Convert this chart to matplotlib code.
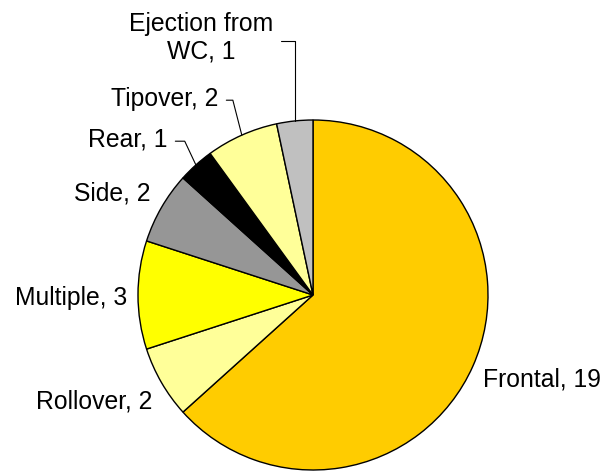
import numpy as np
import matplotlib
matplotlib.use("Agg")
import matplotlib.pyplot as plt

labels = ["Frontal", "Rollover", "Multiple", "Side", "Rear", "Tipover", "Ejection from\nWC"]
values = [19, 2, 3, 2, 1, 2, 1]
colors = ["#FFCC00", "#FFFF99", "#FFFF00", "#969696", "#000000", "#FFFF99", "#C0C0C0"]

# label anchor positions in pixel space (y up), and whether they get a leader line
text_pos = [(483, 93, "left"), (152, 70, "right"), (127, 174, "right"),
            (150, 279, "right"), (167, 332, "right"), (218, 373, "right"),
            (201, 434, "center")]
leader = [False, False, False, False, True, True, True]

W, H = 606, 472
fig = plt.figure(figsize=(W / 100, H / 100), dpi=100)
ax = fig.add_axes([0, 0, 1, 1])

cx, cy, r = 313, 177, 175
wedges, _ = ax.pie(values, colors=colors, startangle=90, counterclock=False,
                   center=(cx, cy), radius=r, frame=True,
                   wedgeprops=dict(edgecolor="black", linewidth=1.0))
ax.set_xlim(0, W)
ax.set_ylim(0, H)
ax.set_aspect("equal")
ax.axis("off")

fam = ["Liberation Sans", "DejaVu Sans"]
plt.rcParams["font.family"] = fam
fs = 17.8

for w, lab, v, (tx, ty, ha), ld in zip(wedges, labels, values, text_pos, leader):
    txt = "%s, %d" % (lab, v)
    if not ld:
        ax.text(tx, ty, txt, ha=ha, va="center", fontsize=fs, color="black", family=fam)
        continue
    mid = ((w.theta1 + w.theta2) / 2.0) % 360
    ex = cx + r * np.cos(np.deg2rad(mid))
    ey = cy + r * np.sin(np.deg2rad(mid))
    if ha == "center":
        angB = 90
    else:
        angB = 90 + 0.6 * (mid - 90)
    ax.annotate(txt, xy=(ex, ey), xytext=(tx, ty), ha=ha, va="center",
                fontsize=fs, multialignment="center", family=fam,
                arrowprops=dict(arrowstyle="-", color="black", lw=0.8,
                                shrinkA=4, shrinkB=0, relpos=(1, 0.45),
                                connectionstyle="angle,angleA=0,angleB=%g,rad=0" % angB))

fig.savefig("out.png", dpi=100)
